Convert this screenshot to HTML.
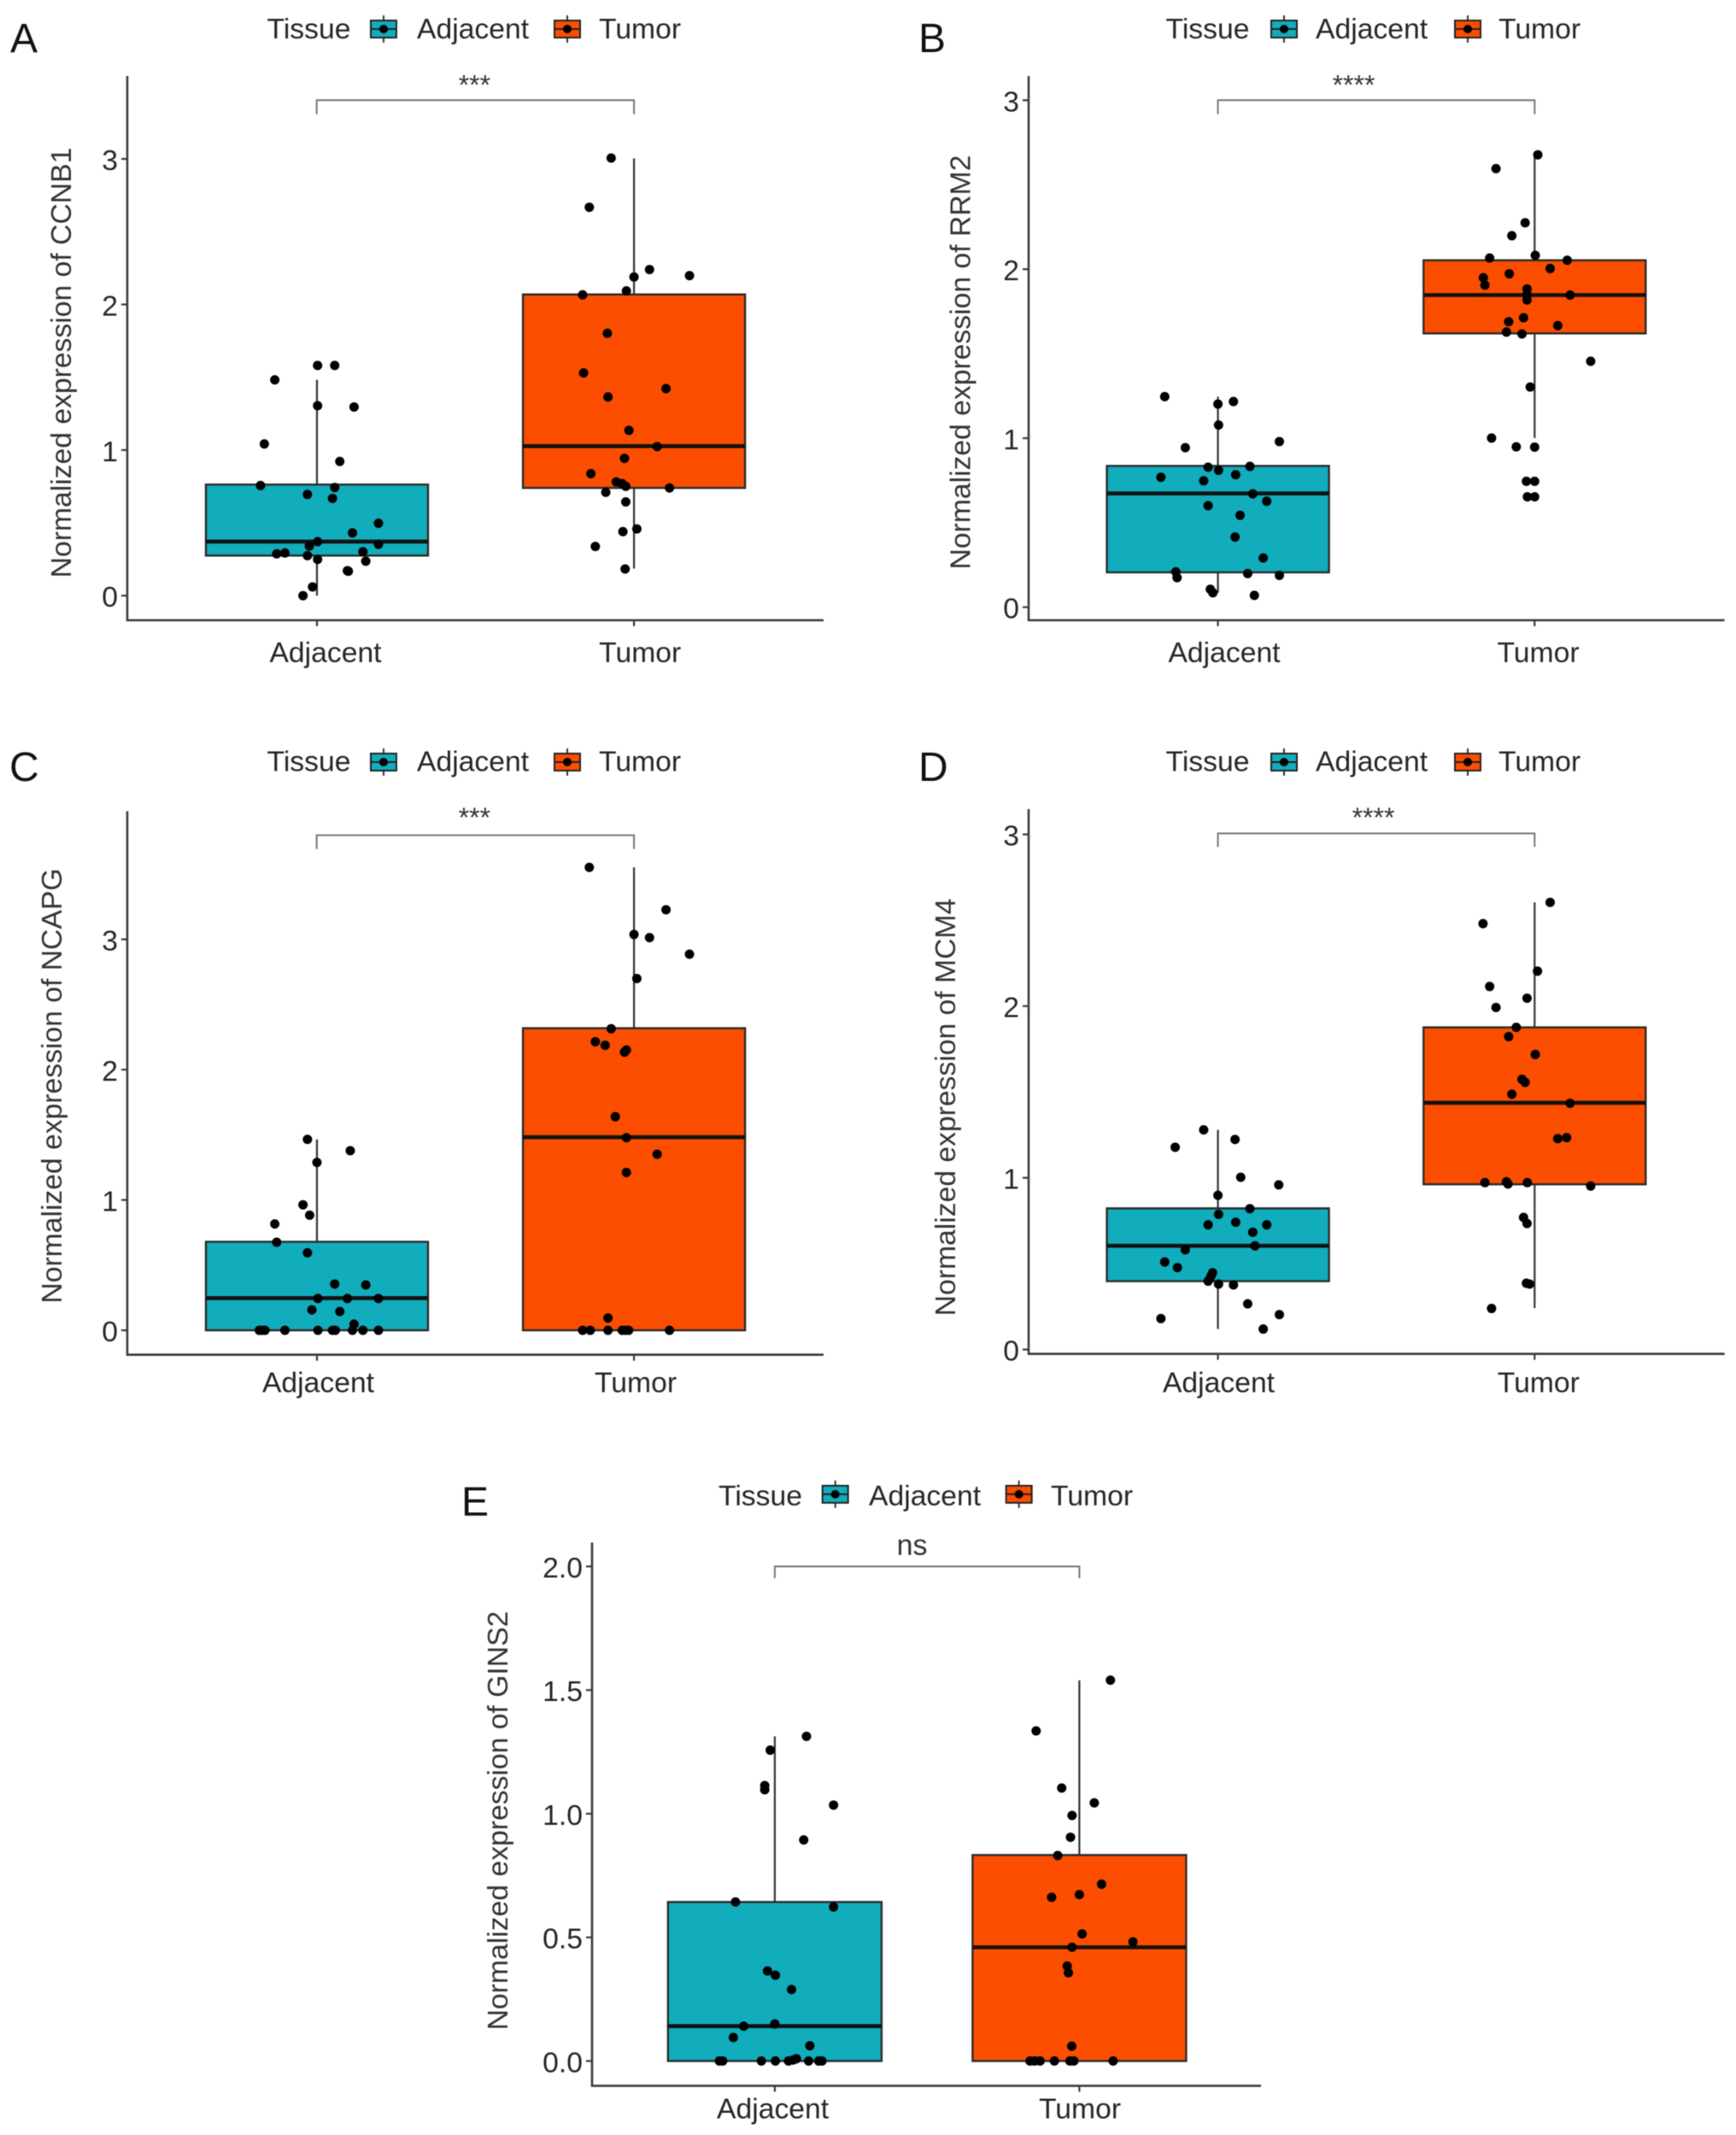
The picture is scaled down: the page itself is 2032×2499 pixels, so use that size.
<!DOCTYPE html>
<html lang="en">
<head>
<meta charset="utf-8">
<title>Normalized expression boxplots</title>
<style>
html,body{margin:0;padding:0;background:#fff;}
svg{display:block;font-family:"Liberation Sans",sans-serif;filter:blur(0.6px);}
text{fill:#262626;font-size:33.7px;}
.letter{font-size:48px;fill:#111;}
.sig{font-size:32px;text-anchor:middle;fill:#333;}
.title{text-anchor:middle;fill:#333;}
.bracket{fill:none;stroke:#777;stroke-width:2;}
.kw{stroke:#333;stroke-width:2;}
.kb{stroke:#222;stroke-width:2;}
.kt{fill:#11adbc;}
.ko{fill:#fc4e00;}
</style>
</head>
<body>
<svg id="figure" xmlns="http://www.w3.org/2000/svg" width="2032" height="2499" viewBox="0 0 2032 2499">
<rect width="2032" height="2499" fill="#fff"/>

<g id="panel-a">
  <text class="letter" x="12" y="61">A</text>
  <text class="title" transform="translate(83,424.5) rotate(-90)">Normalized expression of CCNB1</text>
  <g>
    <text x="312.5" y="45">Tissue</text>
    <g><line class="kw" x1="449" x2="449" y1="18" y2="50"/><rect class="kb kt" x="434" y="24" width="30" height="20"/><line class="kb" x1="434" x2="464" y1="34" y2="34"/><circle cx="449" cy="34" r="5"/></g>
    <text x="488" y="45">Adjacent</text>
    <g><line class="kw" x1="664" x2="664" y1="18" y2="50"/><rect class="kb ko" x="649" y="24" width="30" height="20"/><line class="kb" x1="649" x2="679" y1="34" y2="34"/><circle cx="664" cy="34" r="5"/></g>
    <text x="701" y="45">Tumor</text>
  </g>
  <path class="bracket" d="M370.7 133.7V117.3H742.1V133.7"/>
  <text class="sig" x="555.4" y="110.5">***</text>
</g>

<g id="panel-b">
  <text class="letter" x="1075" y="61">B</text>
  <text class="title" transform="translate(1135.5,424) rotate(-90)">Normalized expression of RRM2</text>
  <g>
    <text x="1364.5" y="45">Tissue</text>
    <g><line class="kw" x1="1503" x2="1503" y1="18" y2="50"/><rect class="kb kt" x="1488" y="24" width="30" height="20"/><line class="kb" x1="1488" x2="1518" y1="34" y2="34"/><circle cx="1503" cy="34" r="5"/></g>
    <text x="1540" y="45">Adjacent</text>
    <g><line class="kw" x1="1718" x2="1718" y1="18" y2="50"/><rect class="kb ko" x="1703" y="24" width="30" height="20"/><line class="kb" x1="1703" x2="1733" y1="34" y2="34"/><circle cx="1718" cy="34" r="5"/></g>
    <text x="1754" y="45">Tumor</text>
  </g>
  <path class="bracket" d="M1425.6 133.7V117.3H1796.3V133.7"/>
  <text class="sig" x="1584.5" y="110.5">****</text>
</g>

<g id="panel-c">
  <text class="letter" x="11" y="914">C</text>
  <text class="title" transform="translate(72,1271) rotate(-90)">Normalized expression of NCAPG</text>
  <g>
    <text x="312.5" y="902.5">Tissue</text>
    <g><line class="kw" x1="449" x2="449" y1="876" y2="908"/><rect class="kb kt" x="434" y="882" width="30" height="20"/><line class="kb" x1="434" x2="464" y1="892" y2="892"/><circle cx="449" cy="892" r="5"/></g>
    <text x="488" y="902.5">Adjacent</text>
    <g><line class="kw" x1="664" x2="664" y1="876" y2="908"/><rect class="kb ko" x="649" y="882" width="30" height="20"/><line class="kb" x1="649" x2="679" y1="892" y2="892"/><circle cx="664" cy="892" r="5"/></g>
    <text x="701" y="902.5">Tumor</text>
  </g>
  <path class="bracket" d="M370.7 993.9V977.6H742.1V993.9"/>
  <text class="sig" x="555.4" y="968">***</text>
</g>

<g id="panel-d">
  <text class="letter" x="1075" y="914">D</text>
  <text class="title" transform="translate(1118,1296) rotate(-90)">Normalized expression of MCM4</text>
  <g>
    <text x="1364.5" y="902.5">Tissue</text>
    <g><line class="kw" x1="1503" x2="1503" y1="876" y2="908"/><rect class="kb kt" x="1488" y="882" width="30" height="20"/><line class="kb" x1="1488" x2="1518" y1="892" y2="892"/><circle cx="1503" cy="892" r="5"/></g>
    <text x="1540" y="902.5">Adjacent</text>
    <g><line class="kw" x1="1718" x2="1718" y1="876" y2="908"/><rect class="kb ko" x="1703" y="882" width="30" height="20"/><line class="kb" x1="1703" x2="1733" y1="892" y2="892"/><circle cx="1718" cy="892" r="5"/></g>
    <text x="1754" y="902.5">Tumor</text>
  </g>
  <path class="bracket" d="M1425.6 991.3V975.5H1796.3V991.3"/>
  <text class="sig" x="1607.5" y="968">****</text>
</g>

<g id="panel-e">
  <text class="letter" x="540" y="1774">E</text>
  <text class="title" transform="translate(594,2131) rotate(-90)">Normalized expression of GINS2</text>
  <g>
    <text x="841" y="1762">Tissue</text>
    <g><line class="kw" x1="977.7" x2="977.7" y1="1733" y2="1765"/><rect class="kb kt" x="962.7" y="1739" width="30" height="20"/><line class="kb" x1="962.7" x2="992.7" y1="1749" y2="1749"/><circle cx="977.7" cy="1749" r="5"/></g>
    <text x="1017" y="1762">Adjacent</text>
    <g><line class="kw" x1="1192.7" x2="1192.7" y1="1733" y2="1765"/><rect class="kb ko" x="1177.7" y="1739" width="30" height="20"/><line class="kb" x1="1177.7" x2="1207.7" y1="1749" y2="1749"/><circle cx="1192.7" cy="1749" r="5"/></g>
    <text x="1230" y="1762">Tumor</text>
  </g>
  <path class="bracket" d="M906.9 1847.3V1833.5H1263.4V1847.3"/>
  <text class="sig" x="1067.6" y="1820" style="font-size:34px">ns</text>
</g>
</svg>

<script>
// ---------- shared categories and tick labels ----------
const categories = ['Adjacent', 'Tumor'];
const ticksInteger3 = [0, 1, 2, 3];
const ticksGins2 = [0, 0.5, 1, 1.5, 2];
const tickLabelsInteger3 = ['0', '1', '2', '3'];
const tickLabelsGins2 = ['0.0', '0.5', '1.0', '1.5', '2.0'];

// ---------- box statistics: [low whisker, q1, median, q3, high whisker] ----------
const ccnb1BoxAdjacent = [0, 0.275, 0.371, 0.763, 1.482];
const ccnb1BoxTumor = [0.186, 0.74, 1.027, 2.069, 3.003];
const rrm2BoxAdjacent = [0.085, 0.206, 0.673, 0.836, 1.246];
const rrm2BoxTumor = [1.001, 1.62, 1.847, 2.053, 2.677];
const ncapgBoxAdjacent = [0, 0, 0.247, 0.679, 1.465];
const ncapgBoxTumor = [0, 0, 1.482, 2.318, 3.552];
const mcm4BoxAdjacent = [0.119, 0.398, 0.604, 0.822, 1.279];
const mcm4BoxTumor = [0.241, 0.962, 1.437, 1.876, 2.604];
const gins2BoxAdjacent = [0, 0, 0.141, 0.643, 1.313];
const gins2BoxTumor = [0, 0, 0.46, 0.833, 1.539];

// ---------- points: expression values and horizontal jitter (in category units) ----------
const ccnb1ValuesAdjacent = [0,.06,.168,.171,.237,.249,.275,.287,.293,.302,.341,.371,.353,.431,.497,.668,.695,.743,.757,.922,1.042,1.296,1.305,1.482,1.581,1.581];
const ccnb1JitterAdjacent = [-.044,-.014,.099,.096,.154,.002,-.03,-.127,-.101,.145,-.024,.002,.194,.112,.194,.049,-.03,.056,-.178,.072,-.166,.117,.002,-.133,.002,.056];
const ccnb1ValuesTumor = [.183,.338,.44,.458,.644,.71,.74,.751,.769,.781,.838,.943,1.024,1.135,1.422,1.365,1.53,1.802,2.066,2.093,2.189,2.24,2.198,2.668,3.006];
const ccnb1JitterTumor = [-.028,-.122,-.035,.009,-.026,-.089,.112,-.026,-.037,-.056,-.136,-.03,.073,-.016,.101,-.082,-.159,-.084,-.162,-.024,0,.049,.175,-.141,-.072];

const rrm2ValuesAdjacent = [.07,.085,.106,.188,.175,.209,.199,.291,.415,.544,.601,.627,.671,.748,.769,.784,.81,.828,.833,.98,.944,1.078,1.202,1.217,1.246];
const rrm2JitterAdjacent = [.115,-.016,-.024,.194,-.129,-.133,.094,.143,.054,.07,-.031,.154,.11,-.045,-.18,.056,.002,-.031,.101,.194,-.103,.002,0,.049,-.168];
const rrm2ValuesTumor = [.653,.653,.745,.745,.949,.947,1.001,1.303,1.455,1.666,1.617,1.628,1.689,1.713,1.847,1.818,1.849,1.883,1.906,1.95,1.973,2.004,2.053,2.066,2.082,2.198,2.275,2.595,2.677];
const rrm2JitterTumor = [0,-.023,0,-.026,-.058,0,-.136,-.014,.177,.073,-.04,-.089,-.082,-.035,.112,-.024,-.024,-.024,-.157,-.162,-.08,.049,.103,-.142,.002,-.072,-.03,-.122,.01];

const ncapgValuesAdjacent = [0,0,0,0,0,0,0,0,0,0,.047,.144,.157,.244,.244,.244,.355,.348,.595,.676,.816,.883,.963,1.288,1.378,1.465];
const ncapgJitterAdjacent = [-.182,-.173,-.164,-.101,.003,.049,.058,.112,.145,.194,.117,.072,-.016,.003,.096,.194,.056,.154,-.03,-.127,-.133,-.023,-.044,0,.105,-.03];
const ncapgValuesTumor = [0,0,0,0,0,0,0,.094,1.211,1.351,1.478,1.639,2.134,2.151,2.187,2.214,2.314,2.699,2.886,3.013,3.037,3.227,3.552];
const ncapgJitterTumor = [-.162,-.138,-.082,-.037,-.026,-.017,.112,-.082,-.024,.073,-.024,-.059,-.03,-.024,-.091,-.122,-.072,.009,.175,.049,0,.101,-.141];

const mcm4ValuesAdjacent = [.119,.18,.203,.266,.381,.376,.398,.411,.431,.447,.477,.51,.581,.604,.683,.726,.726,.741,.787,.82,.898,.959,1.003,1.178,1.223,1.279];
const mcm4JitterAdjacent = [.143,-.18,.194,.094,.002,.049,-.031,-.026,-.021,-.017,-.128,-.168,-.103,.117,.11,-.031,.154,.056,.002,.101,0,.192,.072,-.135,.054,-.045];
const mcm4ValuesTumor = [.239,.381,.386,.734,.769,.952,.972,.977,.964,.972,1.228,1.234,1.434,1.487,1.556,1.574,1.718,1.822,1.876,1.992,2.046,2.114,2.203,2.48,2.604];
const mcm4JitterTumor = [-.136,-.016,-.026,-.024,-.035,.177,-.157,-.089,-.084,-.023,.073,.101,.112,-.072,-.03,-.04,.002,-.082,-.058,-.122,-.024,-.142,.009,-.163,.049];

const gins2ValuesAdjacent = [0,0,0,0,0,.004,.009,0,0,0,.062,.095,.141,.15,.289,.347,.364,.623,.643,.894,1.035,1.097,1.114,1.257,1.313];
const gins2JitterAdjacent = [-.182,-.171,-.044,.002,.045,.06,.071,.111,.144,.155,.115,-.136,-.102,0,.055,.002,-.024,.193,-.129,.095,.193,-.033,-.033,-.015,.104];
const gins2ValuesTumor = [0,0,0,0,0,0,0,.06,.357,.384,.46,.482,.514,.662,.673,.715,.831,.905,.993,1.044,1.104,1.335,1.54];
const gins2JitterTumor = [-.162,-.147,-.129,-.082,-.031,-.018,.111,-.025,-.036,-.04,-.024,.176,.009,-.091,0,.073,-.071,-.029,-.024,.049,-.058,-.142,.102];

// ---------- drawing ----------
const SVGNS = 'http://www.w3.org/2000/svg';
const fills = ['#11adbc', '#fc4e00'];
const INK = '#2b2b2b';

function make(tag, parent, attrs) {
  const node = document.createElementNS(SVGNS, tag);
  for (const key in attrs) node.setAttribute(key, attrs[key]);
  parent.appendChild(node);
  return node;
}

function drawPanel(layout, ticks, tickLabels, boxes, values, jitters) {
  const root = document.getElementById(layout.id);
  const yScale = v => layout.yZero - v * layout.yUnit;
  const xScale = (catIndex, offset) => layout.cats[catIndex] + offset * (layout.cats[1] - layout.cats[0]);

  const axisY = make('line', root, {x1: layout.axisX, x2: layout.axisX, y1: layout.axisTop, y2: layout.axisBottom + 1, stroke: '#3a3a3a', 'stroke-width': 2.6});
  
  
  const axisX = make('line', root, {x1: layout.axisX - 1, x2: layout.axisRight, y1: layout.axisBottom, y2: layout.axisBottom, stroke: '#3a3a3a', 'stroke-width': 2.6});
  
  

  ticks.forEach((t, i) => {
    const mark = make('line', root, {x1: layout.axisX - 7, x2: layout.axisX, y1: yScale(t), y2: yScale(t), stroke: '#3a3a3a', 'stroke-width': 2.2});
    
    
    const label = make('text', root, {x: layout.axisX - 11, y: yScale(t) + 13, 'text-anchor': 'end'});
    label.textContent = tickLabels[i];
    
    
  });

  categories.forEach((cat, c) => {
    const cx = xScale(c, 0);
    const mark = make('line', root, {x1: cx, x2: cx, y1: layout.axisBottom, y2: layout.axisBottom + 7, stroke: '#3a3a3a', 'stroke-width': 2.2});
    
    
    const label = make('text', root, {x: layout.labelX[c], y: layout.labelY, 'text-anchor': 'middle'});
    label.textContent = cat;
    
    

    const stats = boxes[c];
    const whisker = make('line', root, {x1: cx, x2: cx, y1: yScale(stats[0]), y2: yScale(stats[4]), stroke: '#333', 'stroke-width': 2.2});
    
    
    const box = make('rect', root, {x: cx - layout.boxWidth / 2, y: yScale(stats[3]), width: layout.boxWidth, height: yScale(stats[1]) - yScale(stats[3]), fill: fills[c], stroke: INK, 'stroke-width': 2.4});
    
    
    const median = make('line', root, {x1: cx - layout.boxWidth / 2, x2: cx + layout.boxWidth / 2, y1: yScale(stats[2]), y2: yScale(stats[2]), stroke: '#111', 'stroke-width': 4.6});
    
    

    values[c].forEach((v, i) => {
      const dot = make('circle', root, {cx: xScale(c, jitters[c][i]), cy: yScale(v), r: 5.5, fill: '#000'});
      
      
    });
  });
}

drawPanel({id: 'panel-a', axisX: 149, axisTop: 89, axisBottom: 726, axisRight: 964, yZero: 697.2, yUnit: 170.4, cats: [371, 742.1], boxWidth: 260, labelX: [381, 749.2], labelY: 775},
  ticksInteger3, tickLabelsInteger3, [ccnb1BoxAdjacent, ccnb1BoxTumor], [ccnb1ValuesAdjacent, ccnb1ValuesTumor], [ccnb1JitterAdjacent, ccnb1JitterTumor]);

drawPanel({id: 'panel-b', axisX: 1204, axisTop: 89, axisBottom: 726, axisRight: 2018.6, yZero: 710.7, yUnit: 197.8, cats: [1425.6, 1796.3], boxWidth: 260, labelX: [1433, 1800.5], labelY: 775},
  ticksInteger3, tickLabelsInteger3, [rrm2BoxAdjacent, rrm2BoxTumor], [rrm2ValuesAdjacent, rrm2ValuesTumor], [rrm2JitterAdjacent, rrm2JitterTumor]);

drawPanel({id: 'panel-c', axisX: 149, axisTop: 949.5, axisBottom: 1585.7, axisRight: 964, yZero: 1557.1, yUnit: 152.55, cats: [371, 742.1], boxWidth: 260, labelX: [372.5, 744], labelY: 1629.6},
  ticksInteger3, tickLabelsInteger3, [ncapgBoxAdjacent, ncapgBoxTumor], [ncapgValuesAdjacent, ncapgValuesTumor], [ncapgJitterAdjacent, ncapgJitterTumor]);

drawPanel({id: 'panel-d', axisX: 1204, axisTop: 947, axisBottom: 1584.7, axisRight: 2018.6, yZero: 1579.6, yUnit: 201, cats: [1425.6, 1796.3], boxWidth: 260, labelX: [1426.5, 1800.8], labelY: 1629.6},
  ticksInteger3, tickLabelsInteger3, [mcm4BoxAdjacent, mcm4BoxTumor], [mcm4ValuesAdjacent, mcm4ValuesTumor], [mcm4JitterAdjacent, mcm4JitterTumor]);

drawPanel({id: 'panel-e', axisX: 693, axisTop: 1805.5, axisBottom: 2441.4, axisRight: 1476, yZero: 2412.4, yUnit: 289.45, cats: [906.9, 1263.4], boxWidth: 250, labelX: [904.6, 1264], labelY: 2479.6},
  ticksGins2, tickLabelsGins2, [gins2BoxAdjacent, gins2BoxTumor], [gins2ValuesAdjacent, gins2ValuesTumor], [gins2JitterAdjacent, gins2JitterTumor]);
</script>
</body>
</html>
